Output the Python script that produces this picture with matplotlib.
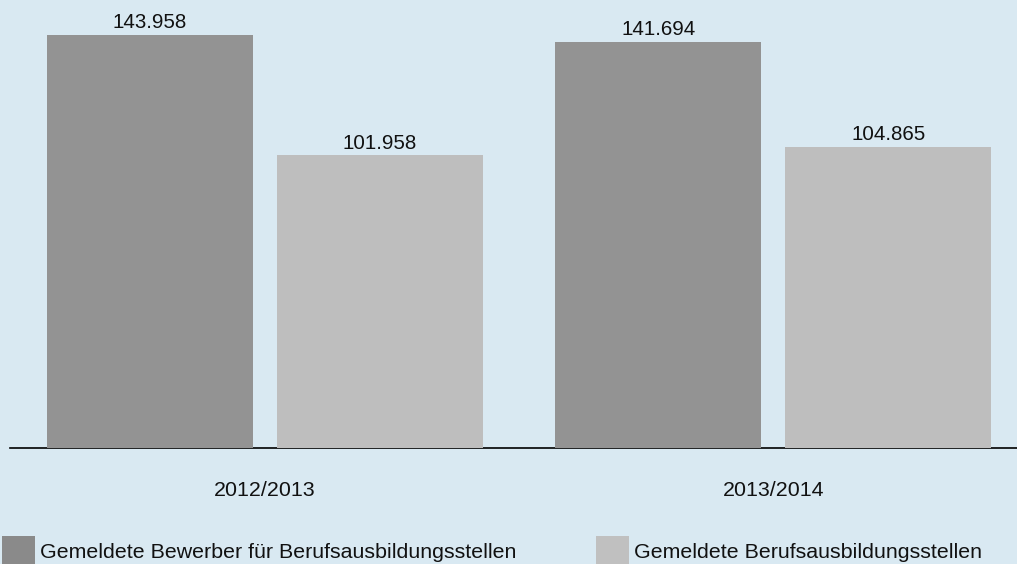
import matplotlib
matplotlib.use("Agg")
import matplotlib.pyplot as plt
from matplotlib.patches import Rectangle
from matplotlib.transforms import blended_transform_factory

categories = ["2012/2013", "2013/2014"]
series_names = ["Gemeldete Bewerber für Berufsausbildungsstellen",
                "Gemeldete Berufsausbildungsstellen"]
bewerber = [143958, 141694]
stellen = [101958, 104865]
value_labels_bewerber = ["143.958", "141.694"]
value_labels_stellen = ["101.958", "104.865"]

bar_colors = ["#939393", "#bebebe"]
legend_colors = ["#8a8a8a", "#c0c0c0"]
bg = "#d9e9f2"

W, H = 1017, 564
fig = plt.figure(figsize=(W / 100, H / 100), dpi=100, facecolor=bg)
plt.rcParams['font.family'] = ['Liberation Sans', 'DejaVu Sans']

ax = fig.add_axes([10 / W, 116 / H, 1007 / W, 448 / H])
ax.set_facecolor(bg)

x = [0, 1]
w = 206 / 508.5
off = 115 / 508.5
fs_val = 14.8
fs_cat = 15.4
fs_leg = 15.4

for vals, labels, sign, col in [(bewerber, value_labels_bewerber, -1, bar_colors[0]),
                                (stellen, value_labels_stellen, 1, bar_colors[1])]:
    xs = [xi + sign * off for xi in x]
    bars = ax.bar(xs, vals, width=w, color=col, zorder=3)
    for b, lab in zip(bars, labels):
        ax.annotate(lab, (b.get_x() + b.get_width() / 2, b.get_height()),
                    xytext=(0, 5), textcoords="offset points",
                    ha="center", va="baseline", fontsize=fs_val, color="#111111")

ax.set_xlim(-0.5015, 1.4789)
ax.set_ylim(0, 156160)
for s in ["top", "left", "right"]:
    ax.spines[s].set_visible(False)
ax.spines["bottom"].set_color("black")
ax.spines["bottom"].set_linewidth(1.2)
ax.spines["bottom"].set_zorder(2)
ax.set_xticks([])
ax.set_yticks([])

trans = blended_transform_factory(ax.transData, fig.transFigure)
for xi, cat in zip(x, categories):
    ax.text(xi, (H - 496) / H, cat, transform=trans, ha="center", va="baseline",
            fontsize=fs_cat, color="#111111")

# legend
leg_x = [2, 596]
for lx, name, col in zip(leg_x, series_names, legend_colors):
    fig.patches.append(Rectangle((lx / W, (H - 569) / H), 33 / W, 33 / H,
                                 transform=fig.transFigure, facecolor=col,
                                 edgecolor="none"))
    fig.text((lx + 38) / W, (H - 558) / H, name, ha="left", va="baseline",
             fontsize=fs_leg, color="#111111")

fig.savefig("out.png", dpi=100, facecolor=bg)
